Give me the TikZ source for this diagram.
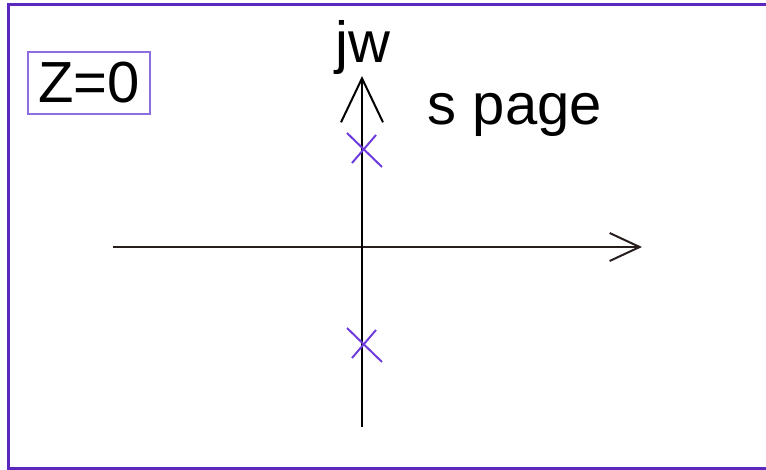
\documentclass[tikz,border=0pt]{standalone}
\usepackage{fontspec}
\setmainfont{Liberation Sans}
\usetikzlibrary{arrows.meta,positioning}
\definecolor{framecol}{RGB}{90,40,190}
\definecolor{boxcol}{RGB}{140,110,225}
\definecolor{polecol}{RGB}{110,60,220}
\definecolor{axiscol}{RGB}{40,30,30}
\tikzset{
  % axis line with open tip
  axisline/.style={line width=1pt, draw=axiscol, -{Straight Barb[#1]}},
  % pole marker
  polemark/.style={line width=1pt, draw=polecol},
  % big sans labels
  biglabel/.style={font=\fontsize{29}{32}\selectfont, inner sep=0pt},
}
\begin{document}
\begin{tikzpicture}[x=0.5pt, y=-0.5pt]
  \useasboundingbox (0,0) rectangle (766,470);

  % frame (open on the right)
  \draw[framecol, line width=1.5pt] (770,5) -- (8,5) -- (8,468) -- (770,468);

  % zero box
  \node[biglabel, draw=boxcol, line width=1pt, minimum width=61pt, minimum height=31pt, anchor=north west] (zbox) at (27,51) {Z=0};

  % axes
  \coordinate (xl) at (113,247);
  \coordinate (xr) at (642,247);
  \coordinate (yb) at (362,427);
  \coordinate (yt) at (362,76);
  \draw[axisline={length=15pt, width=14pt}] (xl) -- (xr);
  \draw[axisline={length=22pt, width=21pt}, draw=black] (yb) -- (yt);

  % labels
  \node[biglabel, anchor=base] (jw) at (363,63) {jw};
  \node[biglabel, anchor=base] (spage) at (515,125) {s page};

  % poles
  \coordinate (p1) at (363,149);
  \coordinate (p2) at (363,344);
  \foreach \p in {p1,p2} {
    \draw[polemark] ([shift={(-16,-16)}]\p) -- ([shift={(19,18)}]\p);
    \draw[polemark] ([shift={(13,-14)}]\p) -- ([shift={(-11,14)}]\p);
  }
\end{tikzpicture}
\end{document}
